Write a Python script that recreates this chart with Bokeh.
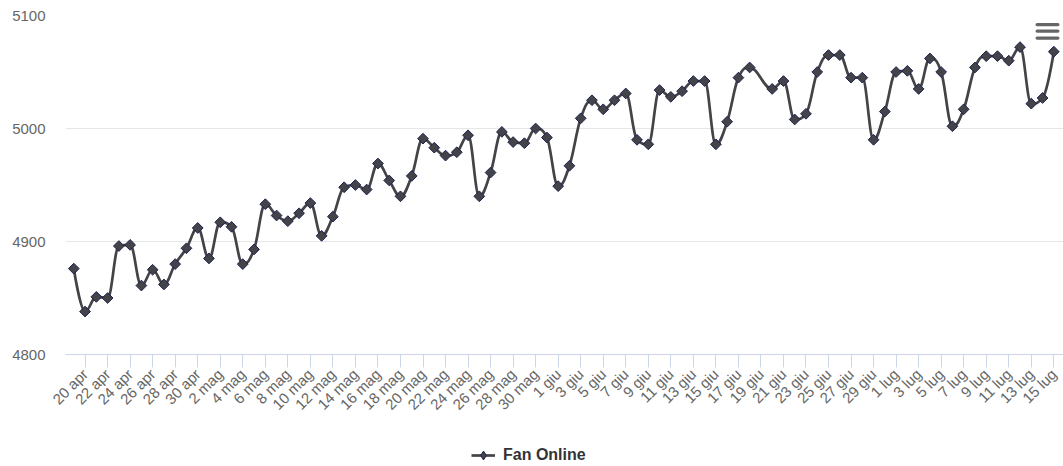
import math
import pandas as pd
from bokeh.plotting import figure
from bokeh.layouts import column
from bokeh.models import (Range1d, FixedTicker, Legend, LegendItem,
                          ColumnDataSource, BoxAnnotation)
from bokeh.embed import file_html
from bokeh.resources import INLINE

# ---------------- data ----------------
it_months = {4: "apr", 5: "mag", 6: "giu", 7: "lug"}
days = [f"{d.day} {it_months[d.month]}"
        for d in pd.date_range("2024-04-19", "2024-07-15")]

fan_online = [4876, 4838, 4851, 4850, 4896, 4897, 4861, 4875, 4862, 4880,
              4894, 4912, 4885, 4917, 4913, 4880, 4893, 4933, 4923, 4918,
              4925, 4934, 4905, 4922, 4948, 4950, 4946, 4969, 4954, 4940,
              4958, 4991, 4983, 4976, 4979, 4994, 4940, 4961, 4997, 4988,
              4987, 5000, 4992, 4949, 4967, 5009, 5025, 5017, 5025, 5031,
              4990, 4986, 5034, 5028, 5033, 5042, 5042, 4986, 5006, 5045,
              5054, None, 5035, 5042, 5008, 5013, 5050, 5065, 5065, 5045,
              5045, 4990, 5015, 5050, 5051, 5035, 5062, 5050, 5002, 5017,
              5054, 5064, 5064, 5060, 5072, 5022, 5027, 5068]

tick_labels = ["20 apr", "22 apr", "24 apr", "26 apr", "28 apr", "30 apr",
               "2 mag", "4 mag", "6 mag", "8 mag", "10 mag", "12 mag", "14 mag",
               "16 mag", "18 mag", "20 mag", "22 mag", "24 mag", "26 mag",
               "28 mag", "30 mag", "1 giu", "3 giu", "5 giu", "7 giu", "9 giu",
               "11 giu", "13 giu", "15 giu", "17 giu", "19 giu", "21 giu",
               "23 giu", "25 giu", "27 giu", "29 giu", "1 lug", "3 lug",
               "5 lug", "7 lug", "9 lug", "11 lug", "13 lug", "15 lug"]

y_ticks = [4800, 4900, 5000, 5100]
series_name = "Fan Online"

# ---------------- helpers ----------------
xs = [i for i, v in enumerate(fan_online) if v is not None]
ys = [fan_online[i] for i in xs]


def spline(xs, ys, smoothing=1.5):
    """Highcharts-like spline control points."""
    n = len(xs)
    lcx, lcy, rcx, rcy = list(xs), list(ys), list(xs), list(ys)
    den = smoothing + 1
    for i in range(1, n - 1):
        px, py = xs[i], ys[i]
        lx, ly = xs[i - 1], ys[i - 1]
        nx, ny = xs[i + 1], ys[i + 1]
        lCX = (smoothing * px + lx) / den
        lCY = (smoothing * py + ly) / den
        rCX = (smoothing * px + nx) / den
        rCY = (smoothing * py + ny) / den
        corr = 0.0
        if rCX != lCX:
            corr = (rCY - lCY) * (rCX - px) / (rCX - lCX) + py - rCY
        lCY += corr
        rCY += corr
        if lCY > ly and lCY > py:
            lCY = max(ly, py); rCY = 2 * py - lCY
        elif lCY < ly and lCY < py:
            lCY = min(ly, py); rCY = 2 * py - lCY
        if rCY > ny and rCY > py:
            rCY = max(ny, py); lCY = 2 * py - rCY
        elif rCY < ny and rCY < py:
            rCY = min(ny, py); lCY = 2 * py - rCY
        lcx[i], lcy[i], rcx[i], rcy[i] = lCX, lCY, rCX, rCY
    return dict(x0=xs[:-1], y0=ys[:-1], x1=xs[1:], y1=ys[1:],
                cx0=rcx[:-1], cy0=rcy[:-1], cx1=lcx[1:], cy1=lcy[1:])


seg_src = ColumnDataSource(spline(xs, ys))
pt_src = ColumnDataSource(dict(x=xs, y=ys, day=[days[i] for i in xs]))

LINE = "#434348"
EDGE = "#1b2350"

# ---------------- main figure ----------------
p = figure(width=1063, height=426, output_backend="svg", toolbar_location=None,
           x_range=Range1d(-0.737, len(days) - 1 + 0.86),
           y_range=Range1d(y_ticks[0], y_ticks[-1]),
           min_border_left=65, min_border_right=0, min_border_top=15,
           min_border_bottom=72)
p.outline_line_color = None
p.background_fill_color = "white"

p.bezier(x0="x0", y0="y0", x1="x1", y1="y1", cx0="cx0", cy0="cy0",
         cx1="cx1", cy1="cy1", source=seg_src, line_color=LINE,
         line_width=2.7, line_cap="round")
p.scatter(x="x", y="y", source=pt_src, marker="square", size=7.6,
          angle=math.pi / 4, fill_color=LINE, line_color=EDGE, line_width=1)

# x axis
tick_pos = [days.index(t) for t in tick_labels]
p.xaxis.ticker = FixedTicker(ticks=tick_pos)
p.xaxis.major_label_overrides = {pos: lab for pos, lab in zip(tick_pos, tick_labels)}
p.xaxis.major_label_orientation = math.pi / 4
p.xaxis.major_tick_out = 13
p.xaxis.major_tick_in = 0
p.xaxis.minor_tick_line_color = None
p.xaxis.axis_line_color = "#ccd6eb"
p.xaxis.major_tick_line_color = "#ccd6eb"
p.xaxis.major_label_text_font = "Liberation Sans"
p.xaxis.major_label_text_font_size = "15px"
p.xaxis.major_label_text_color = "#666666"
p.xaxis.major_label_standoff = 4
p.xgrid.visible = False

# y axis
p.yaxis.ticker = FixedTicker(ticks=y_ticks)
p.yaxis.axis_line_color = None
p.yaxis.major_tick_line_color = None
p.yaxis.minor_tick_line_color = None
p.yaxis.major_tick_out = 0
p.yaxis.major_label_standoff = 20
p.yaxis.major_label_text_font = "Liberation Sans"
p.yaxis.major_label_text_font_size = "15px"
p.yaxis.major_label_text_color = "#666666"
p.ygrid.grid_line_color = "#e6e6e6"
p.ygrid.grid_line_width = 1

# export-menu icon (decoration, screen units)
for top in (331.5, 325, 318):
    p.add_layout(BoxAnnotation(left=970, right=994, top=top, bottom=top - 3.2,
                               left_units="screen", right_units="screen",
                               top_units="screen", bottom_units="screen",
                               fill_color="#666666", fill_alpha=1,
                               line_color=None, border_radius=2))

# ---------------- legend strip ----------------
lg = figure(width=1063, height=40, output_backend="svg", toolbar_location=None,
            x_range=Range1d(0, 1), y_range=Range1d(0, 1),
            x_axis_type=None, y_axis_type=None,
            min_border=0, min_border_left=0, min_border_right=0,
            min_border_top=0, min_border_bottom=0)
lg.outline_line_color = None
lg.grid.visible = False
nan = float("nan")
lg_line = lg.line(x=[nan, nan], y=[nan, nan], line_color=LINE, line_width=2.7)
lg_mark = lg.scatter(x=[nan], y=[nan], marker="diamond", fill_color=LINE,
                     line_color=EDGE, line_width=1)
legend = Legend(items=[LegendItem(label=series_name,
                                  renderers=[lg_line, lg_mark])],
                location=(406, 0), orientation="horizontal",
                padding=0, margin=0, border_line_color=None,
                background_fill_alpha=0, glyph_width=24, glyph_height=22,
                label_standoff=8, label_text_font="Liberation Sans",
                label_text_font_style="bold", label_text_font_size="16px",
                label_text_color="#333333")
lg.add_layout(legend, "center")

layout = column(p, lg, spacing=0)
open("out.html", "w").write(file_html(layout, INLINE))
